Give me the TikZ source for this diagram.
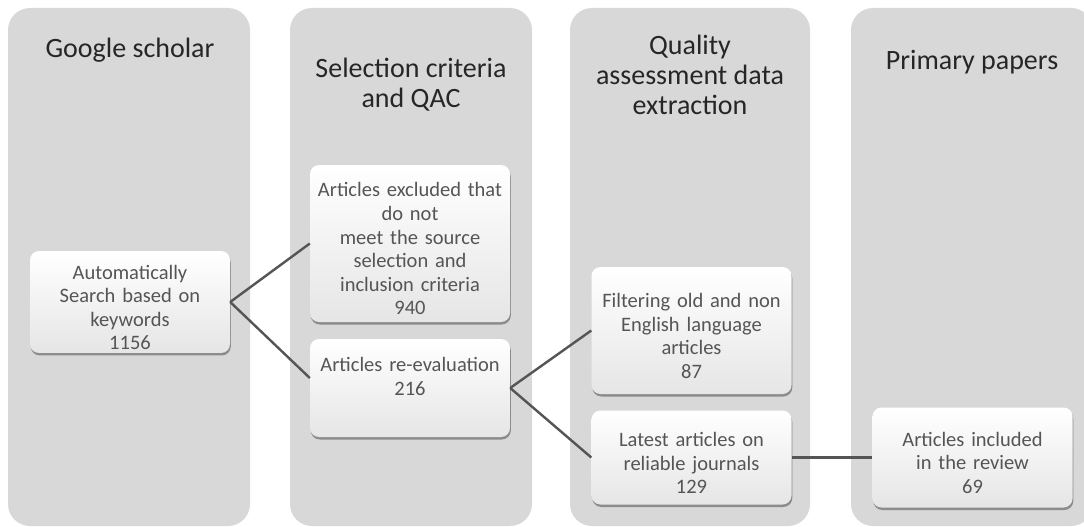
\documentclass[tikz,border=0pt]{standalone}
\usepackage{fontspec}
\setmainfont{Carlito}
\usetikzlibrary{shadows}
\definecolor{colfill}{HTML}{D8D8D9}
\definecolor{boxtext}{HTML}{555555}
\definecolor{headtext}{HTML}{262626}
\definecolor{linkgray}{HTML}{555555}
\begin{document}
\begin{tikzpicture}[x=1pt,y=-1pt,
  column/.style={fill=colfill, rounded corners=22pt},
  header/.style={align=center, text=headtext, font=\fontsize{28}{30}\selectfont},
  stage/.style={rounded corners=9pt, top color=white, middle color=white, bottom color=gray!20,
    drop shadow={shadow xshift=0.8pt, shadow yshift=-2.5pt, fill=black, opacity=0.35},
    align=center, text=boxtext, font=\fontsize{20.5}{23.6}\selectfont,
    text width=194pt, minimum width=200pt, inner sep=3pt},
  lowtext/.style={execute at begin node={\rule{0pt}{25pt}}},
  link/.style={draw=linkgray, line width=2.4pt}]
\useasboundingbox (0,0) rectangle (1084,527);
% four stage columns
\begin{scope}
  \clip (0,0) rectangle (1084,527);
  \fill[column] (8,8) rectangle (250,526);
  \fill[column] (290,8) rectangle (532,526);
  \fill[column] (570,8) rectangle (810,526);
  \fill[column] (851,8) rectangle (1093,526);
\end{scope}
% column headings
\node[header] (h1) at (130,50) {Google scholar};
\node[header] (h2) at (411,85) {Selection criteria\\and QAC};
\node[header] (h3) at (690,75) {Quality\\assessment data\\extraction};
\node[header] (h4) at (972,62) {Primary papers};
% stage boxes
\node[stage, lowtext, minimum height=100pt] (A) at (130,302) {Automatically\\Search based on\\keywords\\1156};
\node[stage, lowtext, minimum height=157pt] (B) at (410,243.5) {Articles excluded that\\do not\\meet the source\\selection and\\inclusion criteria\\940};
\node[stage, minimum height=98pt] (C) at (410,388) {Articles re-evaluation\\216\\\mbox{}};
\node[stage, lowtext, minimum height=127pt] (D) at (691.5,330.5) {Filtering old and non\\English language\\articles\\87};
\node[stage, lowtext, minimum height=94pt] (E) at (691.5,457.5) {Latest articles on\\reliable journals\\129};
\node[stage, lowtext, minimum height=100pt] (F) at (972.5,457.5) {Articles included\\in the review\\69};
% connectors
\draw[link] (A.east) -- (B.west);
\draw[link] (A.east) -- ([yshift=10pt]C.west);
\draw[link] (C.east) -- (D.west);
\draw[link] (C.east) -- (E.west);
\draw[link] (E.east) -- (F.west);
\end{tikzpicture}
\end{document}
